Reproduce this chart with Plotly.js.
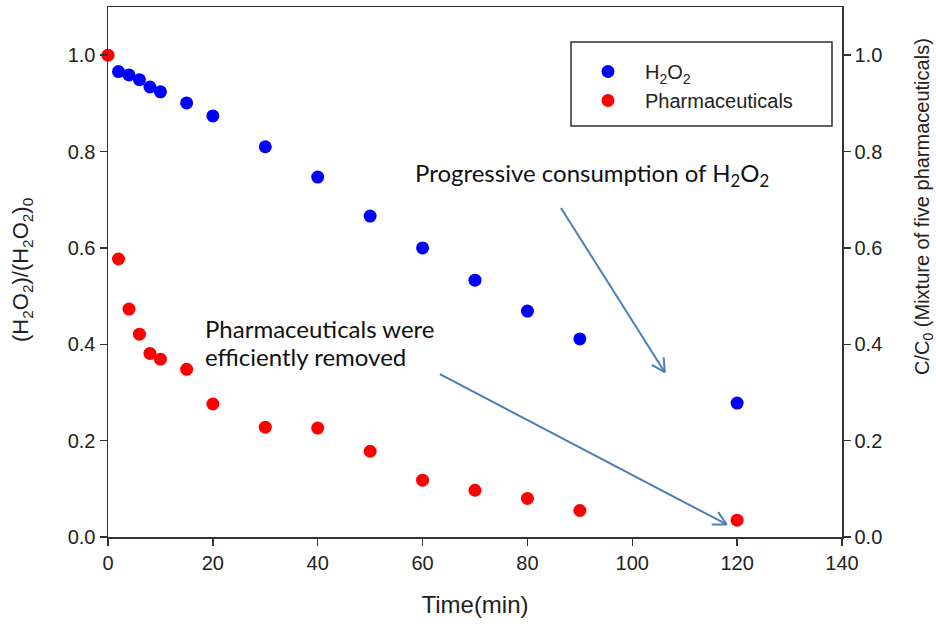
<!DOCTYPE html>
<html>
<head>
<meta charset="utf-8">
<script src="https://cdn.plot.ly/plotly-3.0.1.min.js"></script>
<style>html,body{margin:0;padding:0;background:#fff;}#chart{width:936px;height:624px;}</style>
</head>
<body>
<div id="chart"></div>
<script>
// ---- data ----
const timeH2O2 = [2, 4, 6, 8, 10, 15, 20, 30, 40, 50, 60, 70, 80, 90, 120];
const valH2O2 = [0.966, 0.959, 0.949, 0.934, 0.924, 0.901, 0.874, 0.810, 0.747, 0.666, 0.600, 0.533, 0.469, 0.411, 0.278];
const timePharma = [0, 2, 4, 6, 8, 10, 15, 20, 30, 40, 50, 60, 70, 80, 90, 120];
const valPharma = [1.0, 0.577, 0.473, 0.421, 0.381, 0.369, 0.348, 0.276, 0.228, 0.226, 0.178, 0.118, 0.097, 0.080, 0.055, 0.035];
const xTicks = [0, 20, 40, 60, 80, 100, 120, 140];
const yTicks = [0.0, 0.2, 0.4, 0.6, 0.8, 1.0];
const seriesNames = ['H<sub>2</sub>O<sub>2</sub>', 'Pharmaceuticals'];
// annotation arrows: [x0, y0, x1, y1] in data units
const arrowH2O2 = [86.4, 0.683, 106.2, 0.342];
const arrowPharma = [63.3, 0.338, 118.0, 0.026];

const W = 936, H = 624;
const M = {l: 108, r: 94, t: 7, b: 87};
const xRange = [0, 140], yRange = [0, 1.1];
const pw = W - M.l - M.r, ph = H - M.t - M.b;
const pxX = pw / (xRange[1] - xRange[0]);
const pxY = ph / (yRange[1] - yRange[0]);

function arrowShapes(a) {
  const [x0, y0, x1, y1] = a;
  const color = '#4a7ebb';
  const shapes = [{type: 'line', xref: 'x', yref: 'y', x0, y0, x1, y1,
    line: {color, width: 2}}];
  const dx = (x1 - x0) * pxX, dy = (y1 - y0) * pxY;
  const len = Math.hypot(dx, dy);
  const ux = dx / len, uy = dy / len;
  const hl = 15, ang = 28 * Math.PI / 180;
  [ang, -ang].forEach(t => {
    const rx = -(ux * Math.cos(t) - uy * Math.sin(t)) * hl;
    const ry = -(ux * Math.sin(t) + uy * Math.cos(t)) * hl;
    shapes.push({type: 'line', xref: 'x', yref: 'y', x0: x1, y0: y1,
      x1: x1 + rx / pxX, y1: y1 + ry / pxY, line: {color, width: 2}});
  });
  return shapes;
}

const font = 'Arial, "Liberation Sans", sans-serif';
const calib = 'Lato, "Noto Sans", sans-serif';
const py = p => (H - M.b - p) / ph;   // pixel row -> paper y
const pxp = p => (p - M.l) / pw;      // pixel col -> paper x

const traces = [
  {x: timeH2O2, y: valH2O2, name: seriesNames[0], type: 'scatter', mode: 'markers',
   marker: {color: '#0000ff', size: 13}, cliponaxis: false},
  {x: timePharma, y: valPharma, name: seriesNames[1], type: 'scatter', mode: 'markers',
   marker: {color: '#ff0000', size: 13}, cliponaxis: false}
];

const axisCommon = {
  showgrid: false, zeroline: false, showline: true, linecolor: '#333', linewidth: 1.5,
  ticks: 'outside', ticklen: 7, tickwidth: 1.5, tickcolor: '#333',
  tickfont: {family: font, size: 20, color: '#222'}
};

const layout = {
  width: W, height: H, margin: M,
  paper_bgcolor: '#fff', plot_bgcolor: '#fff',
  showlegend: true,
  legend: {x: pxp(571), y: py(52), xanchor: 'left', yanchor: 'top',
           bgcolor: 'rgba(0,0,0,0)', borderwidth: 0, itemwidth: 64,
           font: {family: font, size: 20, color: '#222'}, tracegroupgap: 0},
  xaxis: Object.assign({}, axisCommon, {range: xRange, tickvals: xTicks, mirror: true,
    title: {text: 'Time(min)', font: {family: font, size: 24, color: '#222'}, standoff: 23}}),
  yaxis: Object.assign({}, axisCommon, {range: yRange, tickvals: yTicks, tickformat: '.1f'}),
  yaxis2: Object.assign({}, axisCommon, {range: yRange, tickvals: yTicks, tickformat: '.1f',
    overlaying: 'y', side: 'right'}),
  shapes: [
    {type: 'rect', xref: 'paper', yref: 'paper',
     x0: pxp(571), x1: pxp(832), y0: py(126), y1: py(42),
     line: {color: '#333', width: 1.5}, fillcolor: 'rgba(0,0,0,0)'}
  ].concat(arrowShapes(arrowH2O2), arrowShapes(arrowPharma)),
  annotations: [
    {xref: 'paper', yref: 'paper', x: pxp(22), y: py(270),
     xanchor: 'center', yanchor: 'middle', textangle: -90, showarrow: false,
     text: '(H<sub>2</sub>O<sub>2</sub>)/(H<sub>2</sub>O<sub>2</sub>)<sub>0</sub>',
     font: {family: font, size: 22, color: '#222'}},
    {xref: 'paper', yref: 'paper', x: pxp(923), y: py(206),
     xanchor: 'center', yanchor: 'middle', textangle: -90, showarrow: false,
     text: 'C/C<sub>0</sub> (Mixture of five pharmaceuticals)',
     font: {family: font, size: 20, color: '#222'}},
    {xref: 'paper', yref: 'paper', x: pxp(413), y: py(174),
     xanchor: 'left', yanchor: 'middle', showarrow: false,
     text: 'Progressive consumption of H<sub>2</sub>O<sub>2</sub>',
     font: {family: calib, size: 24, color: '#111'}},
    {xref: 'paper', yref: 'paper', x: pxp(203), y: py(328),
     xanchor: 'left', yanchor: 'middle', showarrow: false,
     text: 'Pharmaceuticals were',
     font: {family: calib, size: 24, color: '#111'}},
    {xref: 'paper', yref: 'paper', x: pxp(203), y: py(356),
     xanchor: 'left', yanchor: 'middle', showarrow: false,
     text: 'efficiently removed',
     font: {family: calib, size: 24, color: '#111'}}
  ]
};

traces.push({x: [null], y: [null], yaxis: 'y2', showlegend: false, hoverinfo: 'skip', type: 'scatter', mode: 'markers'});

Plotly.newPlot('chart', traces, layout, {displayModeBar: false, staticPlot: true});
</script>
</body>
</html>
